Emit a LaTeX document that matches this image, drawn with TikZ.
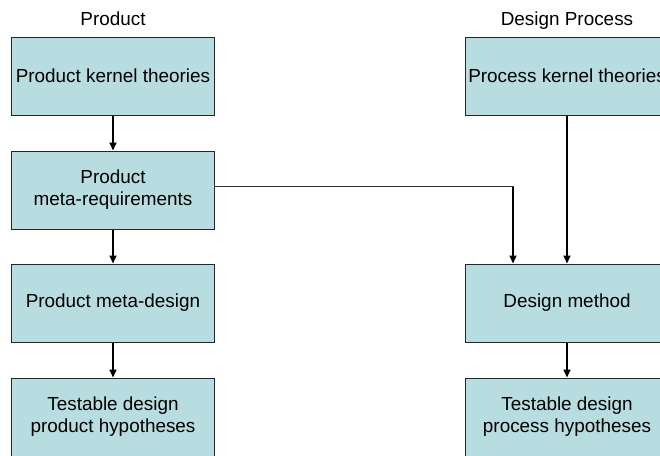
\documentclass[tikz,border=0pt]{standalone}
\usepackage{fontspec}
\setmainfont{Liberation Sans}
\usetikzlibrary{arrows.meta}
\definecolor{boxfill}{RGB}{183,221,224}
\tikzset{
    stage/.style={draw=black!85, line width=1pt, fill=boxfill,
        minimum width=203pt, minimum height=78pt, inner sep=0pt,
        align=center, font=\fontsize{18.9}{22}\selectfont},
    heading/.style={anchor=base, font=\fontsize{18.9}{22}\selectfont},
    flow/.style={line width=1.7pt, -{Triangle[length=8pt,width=7pt]}},
}

\begin{document}
\begin{tikzpicture}[x=1pt,y=-1pt]
    \useasboundingbox (0,0) rectangle (660,455);
    \clip (0,0) rectangle (660,455);

    \node[heading] (prodhead) at (113,25) {Product};
    \node[heading] (prochead) at (567,25) {Design Process};

    \node[stage] (pkt) at (113,76)  {Product kernel theories};
    \node[stage] (pmr) at (113,190) {Product\\meta-requirements};
    \node[stage] (pmd) at (113,303) {Product meta-design};
    \node[stage] (tdp) at (113,417) {Testable design\\product hypotheses};

    \node[stage] (rkt) at (567,76)  {Process kernel theories};
    \node[stage] (dmt) at (567,303) {Design method};
    \node[stage] (tdh) at (567,417) {Testable design\\process hypotheses};

    \foreach \a/\b in {pkt/pmr, pmr/pmd, pmd/tdp, rkt/dmt, dmt/tdh} {
        \draw[flow] (\a) -- (\b);
    }
    \draw[line width=1pt, draw=black!80] ([yshift=4pt]pmr.east) -| ([xshift=-54pt,yshift=77pt]dmt.north);
    \draw[flow] ([xshift=-54pt,yshift=77pt]dmt.north) -- ([xshift=-54pt]dmt.north);
\end{tikzpicture}
\end{document}
